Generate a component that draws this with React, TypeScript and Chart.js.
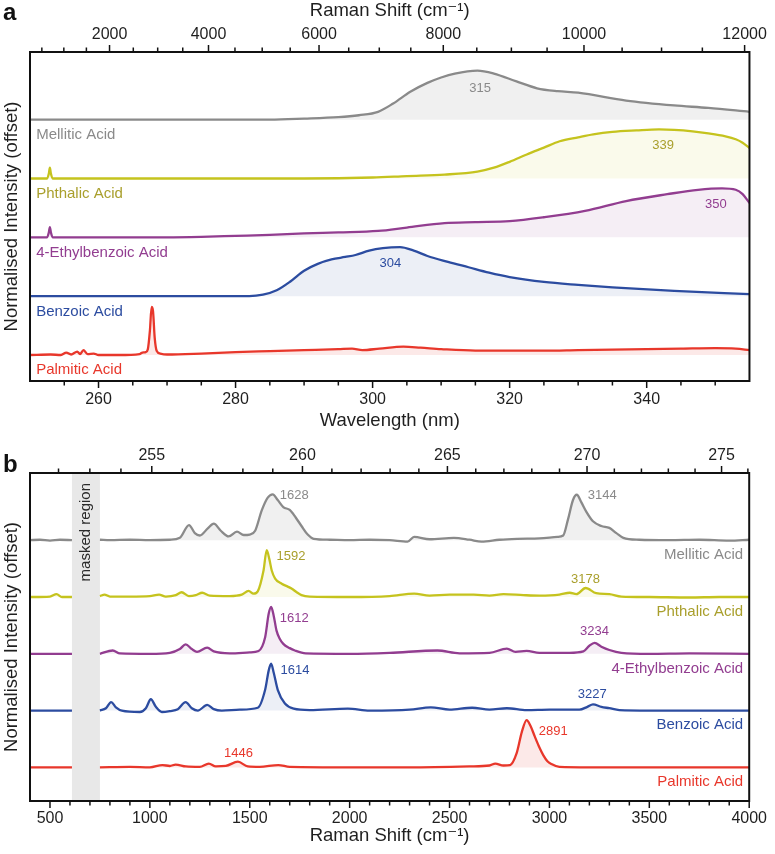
import React, { useEffect, useRef } from 'react';
import { Chart, registerables } from 'chart.js';

Chart.register(...registerables);

const FONT = "'Liberation Sans', Arial, 'DejaVu Sans', sans-serif";
Chart.defaults.font.family = FONT;
Chart.defaults.color = '#1f1f1f';

// excitation wavelength (nm) used to relate Raman shift and wavelength
const EXC_NM = 248.6;
const toNm = (shift: number) => 1e7 / (1e7 / EXC_NM - shift);
const toShift = (nm: number) => 1e7 / EXC_NM - 1e7 / nm;

// ---------- series meta ----------
const SERIES_NAMES = ['Palmitic Acid', 'Benzoic Acid', '4-Ethylbenzoic Acid', 'Phthalic Acid', 'Mellitic Acid'];
const SERIES_OFFSETS = [0, 1.2, 2.4, 3.6, 4.8];
const LINE_COLORS = ['#e8372b', '#2c4ca0', '#923d90', '#c5c31e', '#8a8a8a'];
const TEXT_COLORS = ['#e8372b', '#2c4ca0', '#923d90', '#a99f2c', '#8a8a8a'];
const FILL_COLORS = [
  'rgba(232,55,43,0.11)',
  'rgba(44,76,160,0.09)',
  'rgba(146,61,144,0.09)',
  'rgba(197,195,30,0.09)',
  'rgba(138,138,138,0.13)',
];

// ---------- panel a: fluorescence (wavelength, nm) ----------
const A_PALMITIC_NM = [250, 253, 254.5, 255.3, 256, 256.9, 257.3, 257.8, 258.4, 259.3, 260, 263, 266, 266.4, 266.9, 267.2, 267.5, 267.75, 267.95, 268.2, 268.5, 269, 270, 275, 280, 285, 290, 295, 297, 298.5, 301, 304.5, 307, 310, 315, 320, 325, 330, 335, 340, 345, 350, 353, 355];
const A_PALMITIC_I = [0, 0.01, 0, 0.05, 0.01, 0.07, 0.02, 0.1, 0.02, 0.03, 0, 0, 0.02, 0.05, 0.06, 0.12, 0.5, 0.98, 0.9, 0.35, 0.08, 0.03, 0.01, 0.03, 0.06, 0.08, 0.1, 0.12, 0.13, 0.1, 0.13, 0.17, 0.15, 0.12, 0.09, 0.09, 0.09, 0.1, 0.11, 0.12, 0.13, 0.14, 0.13, 0.1];

const A_BENZOIC_NM = [250, 282, 284, 286, 288, 290, 292, 294, 296, 297.5, 299.5, 301.5, 304, 306, 308, 311, 314, 317, 320, 325, 330, 335, 344, 355];
const A_BENZOIC_I = [0, 0, 0.03, 0.12, 0.3, 0.52, 0.66, 0.75, 0.8, 0.84, 0.93, 0.98, 1.0, 0.93, 0.82, 0.7, 0.59, 0.48, 0.39, 0.29, 0.23, 0.18, 0.11, 0.04];

const A_ETHYL_NM = [250, 252.5, 252.75, 252.9, 253.05, 253.3, 270, 275, 280, 285, 290, 295, 300.8, 305, 310.5, 315, 320, 325, 331, 337, 343, 347.5, 351, 353, 354, 355];
const A_ETHYL_I = [0, 0, 0.1, 0.21, 0.1, 0, 0, 0.01, 0.03, 0.05, 0.08, 0.1, 0.13, 0.2, 0.29, 0.31, 0.33, 0.41, 0.54, 0.74, 0.88, 0.97, 1.0, 0.97, 0.88, 0.7];

const A_PHTHALIC_NM = [250, 252.5, 252.75, 252.9, 253.05, 253.3, 290, 300, 305, 310.5, 315.3, 317.7, 320, 322.5, 325, 327.3, 330, 332.2, 335, 338.5, 341.8, 344, 346.7, 349, 351.5, 353, 354, 355];
const A_PHTHALIC_I = [0, 0, 0.1, 0.22, 0.1, 0, 0, 0.02, 0.05, 0.08, 0.14, 0.22, 0.34, 0.49, 0.63, 0.76, 0.84, 0.9, 0.95, 0.98, 1.0, 0.99, 0.96, 0.92, 0.86, 0.8, 0.73, 0.62];

const A_MELLITIC_NM = [250, 285, 290, 295, 298, 300.8, 303, 305.5, 308, 310, 312, 315.3, 317.7, 321, 324, 327, 330, 337, 344, 349, 355];
const A_MELLITIC_I = [0, 0, 0.02, 0.05, 0.09, 0.16, 0.33, 0.57, 0.75, 0.86, 0.94, 1.0, 0.94, 0.78, 0.64, 0.58, 0.55, 0.39, 0.29, 0.24, 0.16];

const A_BOTTOM_TICKS = [255, 260, 265, 270, 275, 280, 285, 290, 295, 300, 305, 310, 315, 320, 325, 330, 335, 340, 345, 350];
const A_BOTTOM_MAJOR = [260, 280, 300, 320, 340];
const A_TOP_TICKS = [500, 1000, 1500, 2000, 2500, 3000, 3500, 4000, 4500, 5000, 5500, 6000, 6500, 7000, 7500, 8000, 8500, 9000, 9500, 10000, 10500, 11000, 11500, 12000];
const A_TOP_MAJOR = [2000, 4000, 6000, 8000, 10000, 12000];

const A_PEAK_TEXT = ['304', '350', '339', '315'];
const A_PEAK_SERIES = [1, 2, 3, 4];
const A_PEAK_X = [302.6, 350.1, 342.4, 315.7];
const A_PEAK_DY = [0.67, 0.67, 0.68, 0.63];

// ---------- panel b: Raman (shift, cm-1) ----------
const B_PALMITIC_CM = [400, 500, 610, 680, 750, 900, 1000, 1063, 1100, 1129, 1180, 1250, 1295, 1330, 1380, 1441, 1490, 1550, 1643, 1700, 2000, 2300, 2600, 2700, 2729, 2770, 2803, 2836, 2862, 2886, 2905, 2927, 2950, 2969, 2990, 3010, 3050, 3200, 4000];
const B_PALMITIC_I = [0, 0, 0, null, 0, 0.01, 0, 0.05, 0.03, 0.06, 0.02, 0.01, 0.08, 0.02, 0.03, 0.12, 0.02, 0.01, 0.05, 0.01, 0, 0, 0.02, 0.04, 0.08, 0.04, 0.05, 0.3, 0.75, 1.0, 0.88, 0.65, 0.42, 0.26, 0.13, 0.07, 0.01, 0, 0];

const B_BENZOIC_CM = [400, 500, 610, 680, 750, 780, 806, 830, 860, 950, 980, 1005, 1030, 1060, 1100, 1140, 1179, 1210, 1240, 1287, 1320, 1360, 1450, 1540, 1577, 1595, 1607, 1620, 1640, 1676, 1720, 1800, 1991, 2100, 2300, 2406, 2500, 2613, 2700, 2787, 2886, 3000, 3150, 3190, 3218, 3260, 3300, 3350, 3500, 4000];
const B_BENZOIC_I = [0, 0, 0, null, 0, 0.05, 0.18, 0.07, 0, -0.03, 0.05, 0.24, 0.08, -0.03, -0.01, 0.03, 0.18, 0.05, 0, 0.12, 0.03, 0, 0.02, 0.06, 0.44, 0.85, 0.99, 0.8, 0.44, 0.15, 0.04, 0.01, 0.04, 0, 0.02, 0.07, 0.02, 0.06, 0.02, 0.05, 0.01, 0.02, 0.02, 0.08, 0.13, 0.08, 0.05, 0.01, 0, 0];

const B_ETHYL_CM = [400, 500, 610, 680, 750, 814, 850, 1000, 1100, 1150, 1179, 1210, 1236, 1287, 1320, 1400, 1500, 1544, 1577, 1595, 1607, 1620, 1634, 1650, 1668, 1700, 1726, 1780, 2000, 2200, 2439, 2550, 2700, 2787, 2830, 2886, 2950, 3100, 3170, 3200, 3226, 3260, 3300, 3360, 3500, 3700, 4000];
const B_ETHYL_I = [0, 0, 0, null, 0, 0.07, 0.01, 0, 0.02, 0.1, 0.2, 0.1, 0.04, 0.13, 0.05, 0.01, 0.03, 0.06, 0.35, 0.85, 0.99, 0.8, 0.49, 0.32, 0.21, 0.12, 0.07, 0.01, 0, 0.02, 0.07, 0.01, 0.02, 0.11, 0.04, 0.06, 0.02, 0.02, 0.05, 0.17, 0.23, 0.15, 0.08, 0.02, 0, 0.01, 0];

const B_PHTHALIC_CM = [400, 500, 533, 560, 610, 680, 750, 773, 800, 900, 1000, 1046, 1080, 1130, 1159, 1195, 1230, 1262, 1300, 1400, 1460, 1494, 1519, 1540, 1569, 1585, 1598, 1610, 1627, 1660, 1690, 1709, 1735, 1759, 1800, 2000, 2200, 2323, 2400, 2500, 2621, 2700, 2770, 2870, 2950, 3050, 3102, 3135, 3181, 3234, 3300, 3360, 3500, 3700, 3850, 4000];
const B_PHTHALIC_I = [0, 0.01, 0.06, 0, 0, null, 0.02, 0.05, 0.01, 0.01, 0.02, 0.05, 0.01, 0.04, 0.1, 0.02, 0.04, 0.09, 0.03, 0.02, 0.05, 0.13, 0.07, 0.12, 0.56, 0.99, 0.8, 0.56, 0.39, 0.28, 0.22, 0.18, 0.1, 0.04, 0.01, 0, 0.02, 0.07, 0.03, 0.05, 0.05, 0.03, 0.06, 0.04, 0.03, 0.05, 0.09, 0.06, 0.19, 0.08, 0.06, 0.01, 0, -0.01, 0, 0];

const B_MELLITIC_CM = [400, 450, 500, 550, 610, 680, 750, 800, 900, 1000, 1100, 1150, 1196, 1225, 1250, 1290, 1320, 1355, 1394, 1436, 1470, 1500, 1527, 1560, 1590, 1615, 1640, 1668, 1700, 1730, 1759, 1790, 1820, 1900, 2000, 2100, 2200, 2290, 2323, 2400, 2522, 2600, 2660, 2750, 2838, 2950, 3040, 3069, 3093, 3118, 3137, 3160, 3185, 3218, 3260, 3300, 3335, 3370, 3450, 3600, 3750, 3900, 4000];
const B_MELLITIC_I = [0, 0.01, -0.01, 0.01, 0, null, 0.01, 0, 0.01, 0, 0.01, 0.05, 0.32, 0.15, 0.1, 0.25, 0.35, 0.2, 0.08, 0.18, 0.11, 0.12, 0.2, 0.63, 0.9, 0.97, 0.85, 0.7, 0.64, 0.48, 0.3, 0.12, 0.03, 0.01, 0, 0.01, 0, -0.03, 0.07, 0.02, 0.05, 0.01, -0.03, 0.01, 0.03, 0.04, 0.07, 0.1, 0.44, 0.85, 0.96, 0.8, 0.6, 0.4, 0.3, 0.26, 0.15, 0.05, 0.01, 0, 0.01, -0.01, 0.01];

const B_MASK = [610, 750];

const B_BOTTOM_TICKS = [500, 600, 700, 800, 900, 1000, 1100, 1200, 1300, 1400, 1500, 1600, 1700, 1800, 1900, 2000, 2100, 2200, 2300, 2400, 2500, 2600, 2700, 2800, 2900, 3000, 3100, 3200, 3300, 3400, 3500, 3600, 3700, 3800, 3900, 4000];
const B_BOTTOM_MAJOR = [500, 1000, 1500, 2000, 2500, 3000, 3500, 4000];
const B_TOP_TICKS = [252, 253, 254, 255, 256, 257, 258, 259, 260, 261, 262, 263, 264, 265, 266, 267, 268, 269, 270, 271, 272, 273, 274, 275, 276];
const B_TOP_MAJOR = [255, 260, 265, 270, 275];

const B_PEAK_TEXT = ['1446', '2891', '1614', '3227', '1612', '3234', '1592', '3178', '1628', '3144'];
const B_PEAK_SERIES = [0, 0, 1, 1, 2, 2, 3, 3, 4, 4];
const B_PEAK_X = [1444, 3019, 1726, 3214, 1723, 3226, 1706, 3181, 1723, 3264];
const B_PEAK_DY = [0.3, 0.75, 0.84, 0.35, 0.75, 0.47, 0.85, 0.37, 0.95, 0.95];

// ---------- helpers ----------
function makeDataset(xs: number[], ys: (number | null)[], k: number) {
  return {
    label: SERIES_NAMES[k],
    data: xs.map((x, i) => ({ x, y: ys[i] === null ? null : (ys[i] as number) + SERIES_OFFSETS[k] })),
    borderColor: LINE_COLORS[k],
    backgroundColor: FILL_COLORS[k],
    borderWidth: 2.3,
    pointRadius: 0,
    fill: { value: SERIES_OFFSETS[k] },
    cubicInterpolationMode: 'monotone',
    spanGaps: false,
  };
}

type PanelOpts = {
  letter: string;
  letterY: number;
  nameX: number;
  nameAlign: CanvasTextAlign;
  peakText: string[];
  peakSeries: number[];
  peakX: number[];
  peakDy: number[];
  mask?: number[];
};

function decorPlugin(o: PanelOpts) {
  return {
    id: 'decor',
    beforeDatasetsDraw(chart: any) {
      const { ctx, chartArea } = chart;
      if (o.mask) {
        const xs = chart.scales.x;
        const x0 = xs.getPixelForValue(o.mask[0]);
        const x1 = xs.getPixelForValue(o.mask[1]);
        ctx.save();
        ctx.fillStyle = '#e8e8e8';
        ctx.fillRect(x0, chartArea.top, x1 - x0, chartArea.bottom - chartArea.top);
        ctx.restore();
      }
    },
    afterDatasetsDraw(chart: any) {
      const { ctx, chartArea } = chart;
      const xs = chart.scales.x;
      const x2 = chart.scales.x2;
      const ys = chart.scales.y;
      ctx.save();
      // frame
      ctx.strokeStyle = '#111';
      ctx.lineWidth = 2;
      ctx.strokeRect(chartArea.left, chartArea.top, chartArea.right - chartArea.left, chartArea.bottom - chartArea.top);
      // tick marks
      ctx.lineWidth = 1.5;
      for (const t of xs.ticks) {
        const p = xs.getPixelForValue(t.value);
        const len = t.label ? 7 : 4.5;
        ctx.beginPath();
        ctx.moveTo(p, chartArea.bottom);
        ctx.lineTo(p, chartArea.bottom + len);
        ctx.stroke();
      }
      for (const t of x2.ticks) {
        const p = x2.getPixelForValue(t.value);
        const len = t.label ? 7 : 4.5;
        ctx.beginPath();
        ctx.moveTo(p, chartArea.top);
        ctx.lineTo(p, chartArea.top - len);
        ctx.stroke();
      }
      // mask text
      if (o.mask) {
        const cx = (xs.getPixelForValue(o.mask[0]) + xs.getPixelForValue(o.mask[1])) / 2;
        ctx.save();
        ctx.translate(cx, chartArea.top + 10);
        ctx.rotate(-Math.PI / 2);
        ctx.fillStyle = '#2a2a2a';
        ctx.font = `15px ${FONT}`;
        ctx.textAlign = 'right';
        ctx.textBaseline = 'middle';
        ctx.fillText('masked region', 0, 0);
        ctx.restore();
      }
      // series names
      ctx.font = `15px ${FONT}`;
      ctx.textBaseline = 'middle';
      ctx.textAlign = o.nameAlign;
      SERIES_NAMES.forEach((n, k) => {
        ctx.fillStyle = TEXT_COLORS[k];
        ctx.fillText(n, xs.getPixelForValue(o.nameX), ys.getPixelForValue(SERIES_OFFSETS[k] - 0.31));
      });
      // peak labels
      ctx.font = `13px ${FONT}`;
      ctx.textAlign = 'center';
      o.peakText.forEach((t, i) => {
        const k = o.peakSeries[i];
        ctx.fillStyle = TEXT_COLORS[k];
        ctx.fillText(t, xs.getPixelForValue(o.peakX[i]), ys.getPixelForValue(SERIES_OFFSETS[k] + o.peakDy[i]));
      });
      // y title
      ctx.save();
      ctx.translate(12, (chartArea.top + chartArea.bottom) / 2);
      ctx.rotate(-Math.PI / 2);
      ctx.fillStyle = '#1f1f1f';
      ctx.font = `18.5px ${FONT}`;
      ctx.textAlign = 'center';
      ctx.textBaseline = 'middle';
      ctx.fillText('Normalised Intensity (offset)', 0, 0);
      ctx.restore();
      // panel letter
      ctx.fillStyle = '#111';
      ctx.font = `bold 24px ${FONT}`;
      ctx.textAlign = 'left';
      ctx.textBaseline = 'alphabetic';
      ctx.fillText(o.letter, 3, o.letterY);
      ctx.restore();
    },
  };
}

function baseOptions(
  xMin: number, xMax: number, yMin: number, yMax: number,
  bottomH: number, topH: number,
  bottomTitle: string, topTitle: string, bottomTitlePad: number, topTitlePad: number,
  bottomTickVals: number[], bottomLabel: (i: number) => string,
  topTickVals: number[], topLabel: (i: number) => string,
  bottomPad: number, topPad: number,
) {
  return {
    responsive: false,
    maintainAspectRatio: false,
    devicePixelRatio: 1,
    animation: false,
    events: [],
    layout: { padding: { left: 30, right: 21, top: 0, bottom: 0 } },
    plugins: { legend: { display: false }, tooltip: { enabled: false } },
    scales: {
      x: {
        type: 'linear', position: 'bottom', min: xMin, max: xMax,
        grid: { display: false, drawTicks: false }, border: { display: false },
        afterBuildTicks: (axis: any) => { axis.ticks = bottomTickVals.map((v) => ({ value: v })); },
        afterFit: (axis: any) => { axis.height = bottomH; },
        ticks: {
          autoSkip: false, maxRotation: 0, minRotation: 0, padding: bottomPad,
          font: { size: 16 }, color: '#1f1f1f',
          callback: (_v: any, i: number) => bottomLabel(i),
        },
        title: { display: true, text: bottomTitle, font: { size: 18.5 }, color: '#1f1f1f', padding: { top: 0, bottom: bottomTitlePad } },
      },
      x2: {
        type: 'linear', position: 'top', min: xMin, max: xMax,
        grid: { display: false, drawTicks: false }, border: { display: false },
        afterBuildTicks: (axis: any) => { axis.ticks = topTickVals.map((v) => ({ value: v })); },
        afterFit: (axis: any) => { axis.height = topH; },
        ticks: {
          autoSkip: false, maxRotation: 0, minRotation: 0, padding: topPad,
          font: { size: 16 }, color: '#1f1f1f',
          callback: (_v: any, i: number) => topLabel(i),
        },
        title: { display: topTitle !== '', text: topTitle, font: { size: 18.5 }, color: '#1f1f1f', padding: { top: topTitlePad, bottom: 0 } },
      },
      y: { type: 'linear', display: false, min: yMin, max: yMax },
    },
  };
}

function configA(): any {
  const datasets = [
    makeDataset(A_PALMITIC_NM, A_PALMITIC_I, 0),
    makeDataset(A_BENZOIC_NM, A_BENZOIC_I, 1),
    makeDataset(A_ETHYL_NM, A_ETHYL_I, 2),
    makeDataset(A_PHTHALIC_NM, A_PHTHALIC_I, 3),
    makeDataset(A_MELLITIC_NM, A_MELLITIC_I, 4),
  ];
  return {
    type: 'line',
    data: { datasets },
    options: baseOptions(
      250, 355, -0.53, 6.18, 59, 52,
      'Wavelength (nm)', 'Raman Shift (cm\u207B\u00B9)', 8, 0,
      A_BOTTOM_TICKS, (i) => (A_BOTTOM_MAJOR.includes(A_BOTTOM_TICKS[i]) ? String(A_BOTTOM_TICKS[i]) : ''),
      A_TOP_TICKS.map(toNm), (i) => (A_TOP_MAJOR.includes(A_TOP_TICKS[i]) ? String(A_TOP_TICKS[i]) : ''),
      9, 8,
    ),
    plugins: [decorPlugin({
      letter: 'a', letterY: 20, nameX: 250.9, nameAlign: 'left',
      peakText: A_PEAK_TEXT, peakSeries: A_PEAK_SERIES, peakX: A_PEAK_X, peakDy: A_PEAK_DY,
    })],
  };
}

function configB(): any {
  const datasets = [
    makeDataset(B_PALMITIC_CM, B_PALMITIC_I, 0),
    makeDataset(B_BENZOIC_CM, B_BENZOIC_I, 1),
    makeDataset(B_ETHYL_CM, B_ETHYL_I, 2),
    makeDataset(B_PHTHALIC_CM, B_PHTHALIC_I, 3),
    makeDataset(B_MELLITIC_CM, B_MELLITIC_I, 4),
  ];
  return {
    type: 'line',
    data: { datasets },
    options: baseOptions(
      400, 4000, -0.71, 6.22, 53, 33,
      'Raman Shift (cm\u207B\u00B9)', '', 7, 0,
      B_BOTTOM_TICKS, (i) => (B_BOTTOM_MAJOR.includes(B_BOTTOM_TICKS[i]) ? String(B_BOTTOM_TICKS[i]) : ''),
      B_TOP_TICKS.map(toShift), (i) => (B_TOP_MAJOR.includes(B_TOP_TICKS[i]) ? String(B_TOP_TICKS[i]) : ''),
      8, 8,
    ),
    plugins: [decorPlugin({
      letter: 'b', letterY: 32, nameX: 3970, nameAlign: 'right',
      peakText: B_PEAK_TEXT, peakSeries: B_PEAK_SERIES, peakX: B_PEAK_X, peakDy: B_PEAK_DY,
      mask: B_MASK,
    })],
  };
}

export default function App() {
  const refA = useRef<HTMLCanvasElement>(null);
  const refB = useRef<HTMLCanvasElement>(null);
  useEffect(() => {
    const a = new Chart(refA.current as HTMLCanvasElement, configA());
    const b = new Chart(refB.current as HTMLCanvasElement, configB());
    return () => {
      a.destroy();
      b.destroy();
    };
  }, []);
  return (
    <div style={{ position: 'absolute', left: 0, top: 0, width: 775, height: 854, background: '#fff' }}>
      <canvas ref={refA} width={775} height={440} style={{ position: 'absolute', left: 0, top: 0, width: 775, height: 440 }} />
      <canvas ref={refB} width={775} height={414} style={{ position: 'absolute', left: 0, top: 440, width: 775, height: 414 }} />
    </div>
  );
}
